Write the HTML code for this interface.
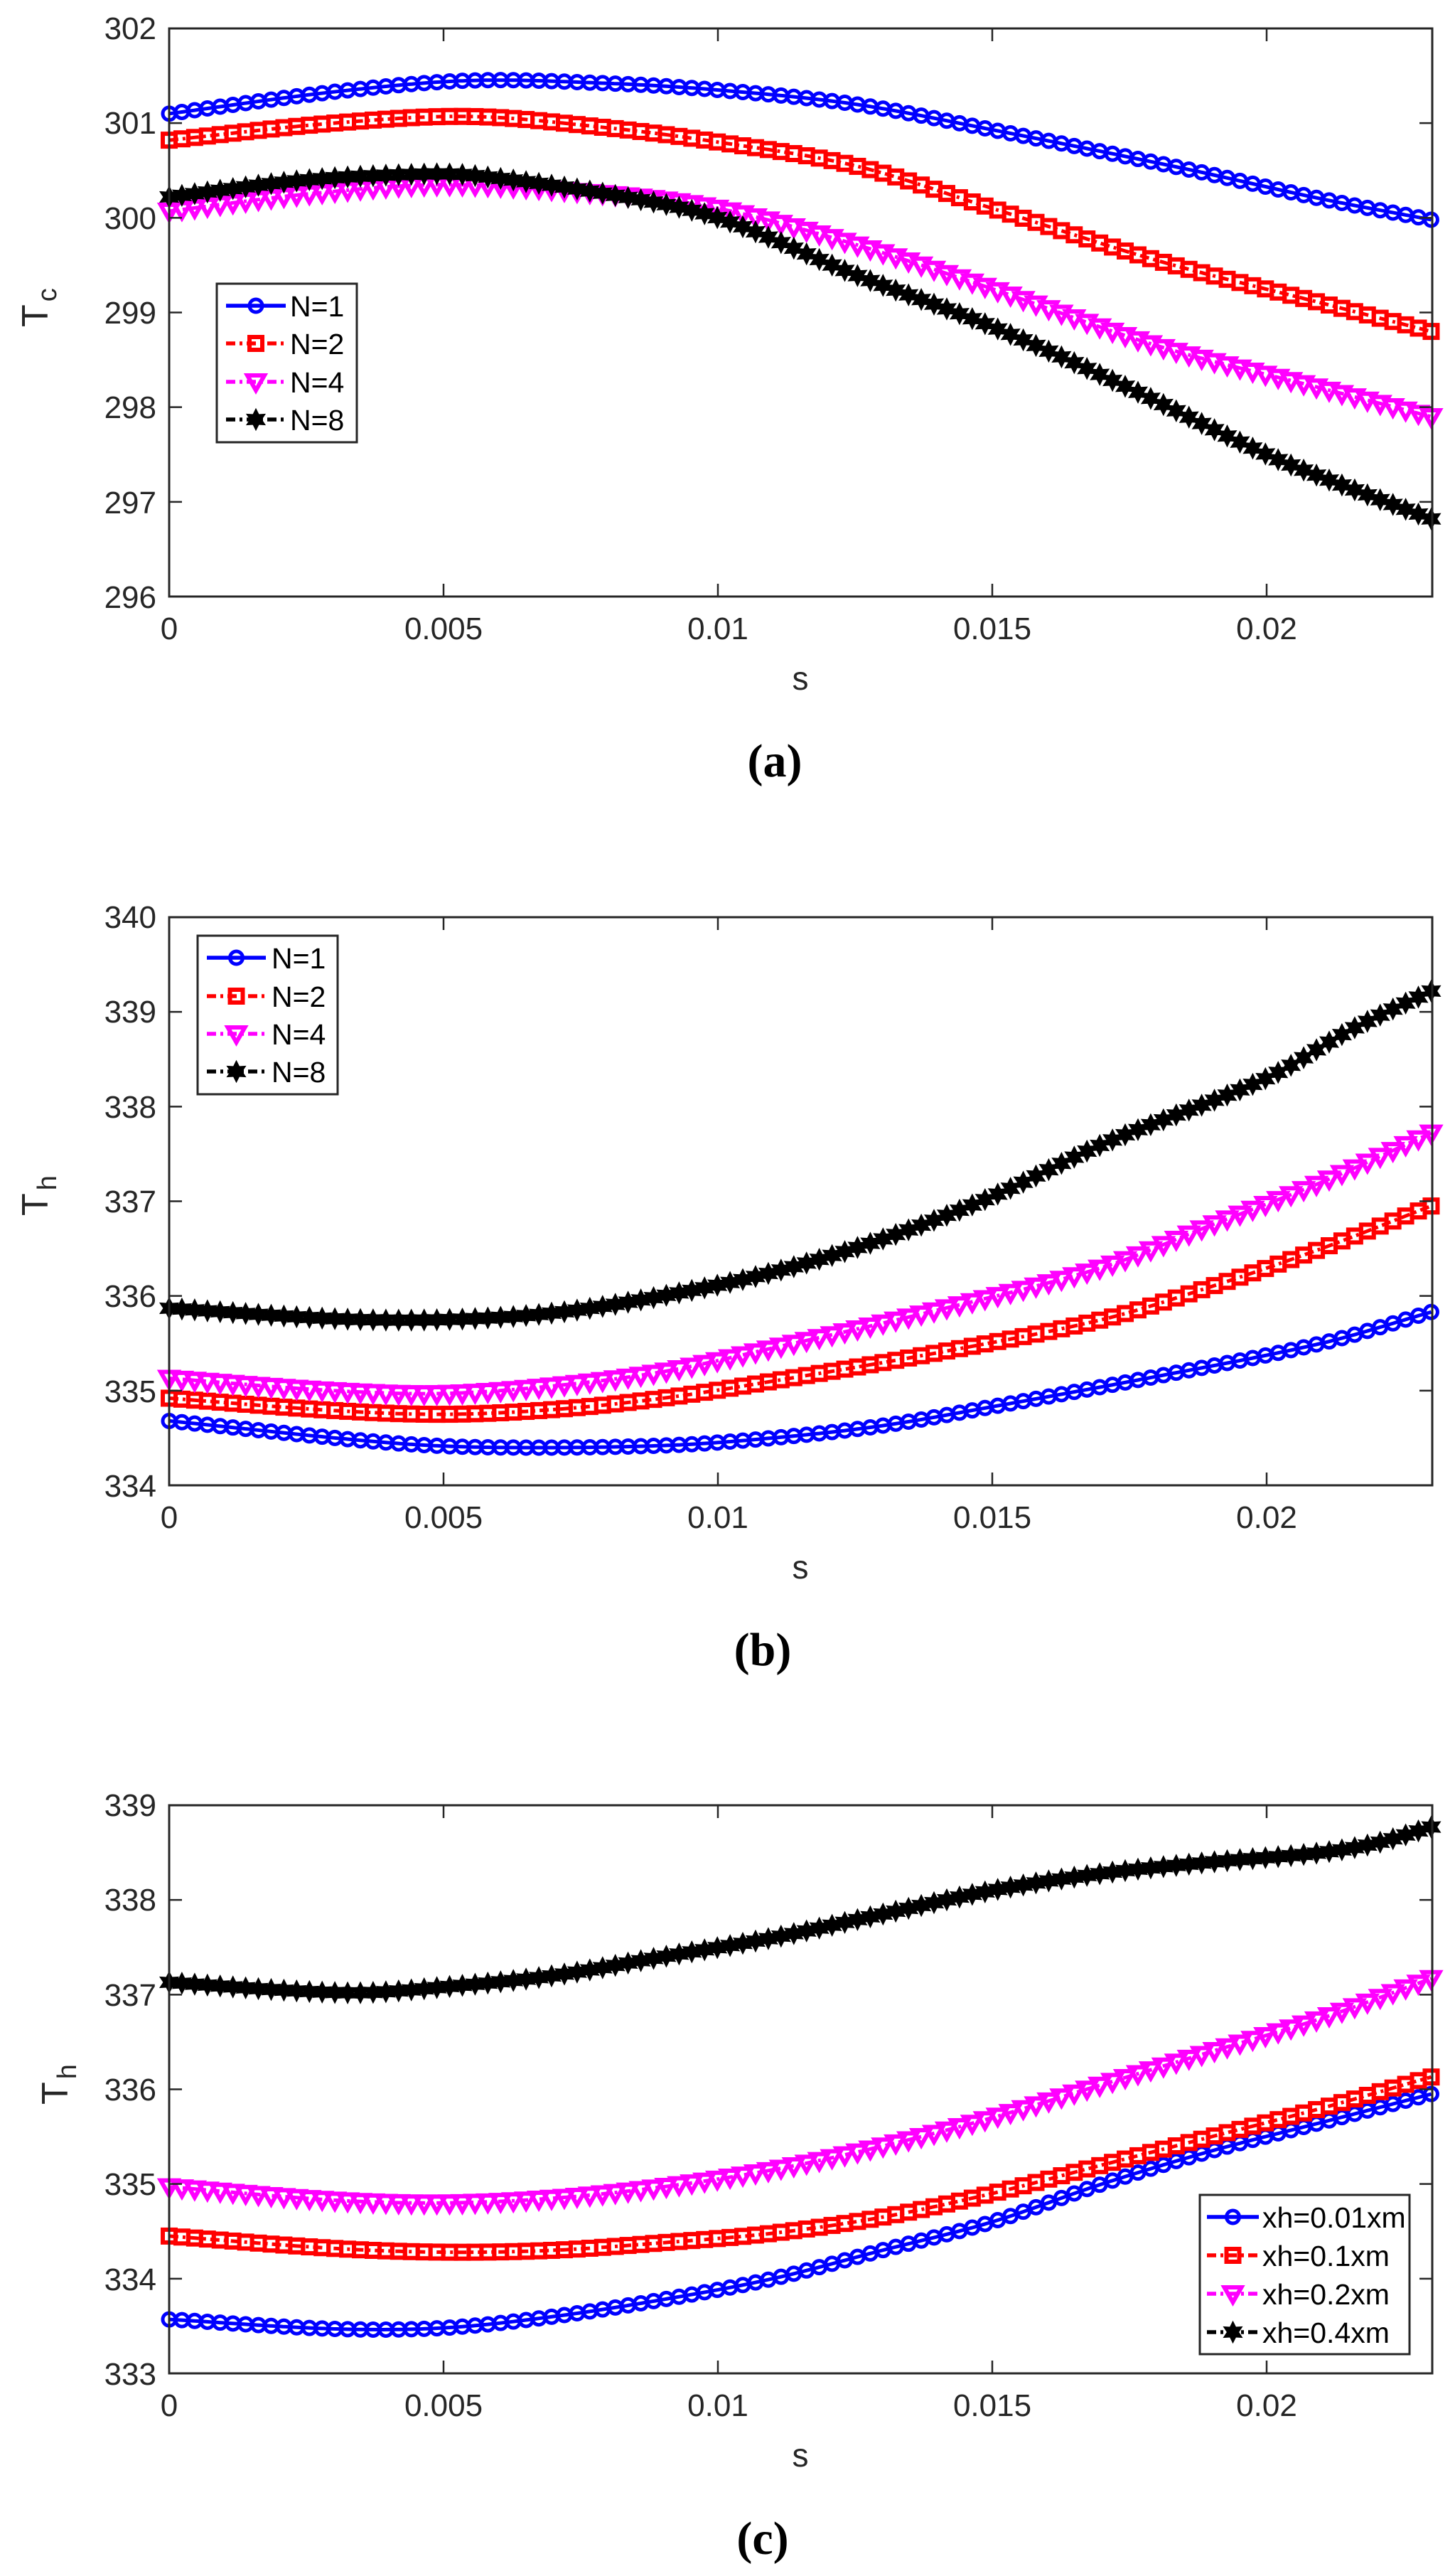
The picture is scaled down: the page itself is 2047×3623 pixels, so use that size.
<!DOCTYPE html>
<html><head><meta charset="utf-8">
<style>
html,body{margin:0;padding:0;background:#fff;}
svg{display:block;}
text{font-family:"Liberation Sans",Arial,sans-serif;fill:#262626;}
.cap{font-family:"Liberation Serif",serif;font-weight:bold;fill:#000;}
</style></head>
<body>
<svg id="s" width="2047" height="3623" viewBox="0 0 2047 3623" xmlns="http://www.w3.org/2000/svg">
<rect width="2047" height="3623" fill="#fff"/>
<g id="plots"></g>
<g font-size="44" text-anchor="end">
<text x="220" y="55">302</text><text x="220" y="188">301</text><text x="220" y="322">300</text><text x="220" y="455">299</text><text x="220" y="588">298</text><text x="220" y="722">297</text><text x="220" y="855">296</text>
<text x="220" y="1305">340</text><text x="220" y="1438">339</text><text x="220" y="1572">338</text><text x="220" y="1705">337</text><text x="220" y="1838">336</text><text x="220" y="1972">335</text><text x="220" y="2105">334</text>
<text x="220" y="2554">339</text><text x="220" y="2687">338</text><text x="220" y="2821">337</text><text x="220" y="2954">336</text><text x="220" y="3087">335</text><text x="220" y="3221">334</text><text x="220" y="3354">333</text>
</g>
<g font-size="44" text-anchor="middle">
<text x="238" y="899">0</text><text x="624" y="899">0.005</text><text x="1010" y="899">0.01</text><text x="1396" y="899">0.015</text><text x="1782" y="899">0.02</text>
<text x="238" y="2149">0</text><text x="624" y="2149">0.005</text><text x="1010" y="2149">0.01</text><text x="1396" y="2149">0.015</text><text x="1782" y="2149">0.02</text>
<text x="238" y="3398">0</text><text x="624" y="3398">0.005</text><text x="1010" y="3398">0.01</text><text x="1396" y="3398">0.015</text><text x="1782" y="3398">0.02</text>
<text x="1126" y="970" font-size="46">s</text>
<text x="1126" y="2220" font-size="46">s</text>
<text x="1126" y="3469" font-size="46">s</text>
</g>
<g font-size="52">
<text transform="translate(67,460) rotate(-90)">T<tspan font-size="38" dy="12" dx="4">c</tspan></text>
<text transform="translate(67,1710) rotate(-90)">T<tspan font-size="38" dy="12" dx="4">h</tspan></text>
<text transform="translate(95,2960) rotate(-90)">T<tspan font-size="38" dy="12" dx="4">h</tspan></text>
</g>
<g font-size="66" text-anchor="middle" class="cap">
<text class="cap" x="1090" y="1092">(a)</text>
<text class="cap" x="1073" y="2342">(b)</text>
<text class="cap" x="1073" y="3592">(c)</text>
</g>
<g id="legends"></g>
</svg>
<script>
(function(){
var NS="http://www.w3.org/2000/svg";
var root=document.getElementById("plots");
var leg=document.getElementById("legends");
function el(tag,attrs,parent){var e=document.createElementNS(NS,tag);for(var k in attrs)e.setAttribute(k,attrs[k]);(parent||root).appendChild(e);return e;}
var X0=238,X1=2015,XMAX=0.02302;
function sx(s){return X0+(s/XMAX)*(X1-X0);}
function interp(pts,x){
 var n=pts.length;
 if(x<=pts[0][0])return pts[0][1];
 if(x>=pts[n-1][0])return pts[n-1][1];
 var i=0;while(pts[i+1][0]<x)i++;
 function slope(k){
  if(k==0)return (pts[1][1]-pts[0][1])/(pts[1][0]-pts[0][0]);
  if(k==n-1)return (pts[n-1][1]-pts[n-2][1])/(pts[n-1][0]-pts[n-2][0]);
  return (pts[k+1][1]-pts[k-1][1])/(pts[k+1][0]-pts[k-1][0]);
 }
 var x0=pts[i][0],x1=pts[i+1][0],h=x1-x0,t=(x-x0)/h;
 var y0=pts[i][1],y1=pts[i+1][1],m0=slope(i)*h,m1=slope(i+1)*h;
 var t2=t*t,t3=t2*t;
 return (2*t3-3*t2+1)*y0+(t3-2*t2+t)*m0+(-2*t3+3*t2)*y1+(t3-t2)*m1;
}
function marker(type,x,y,col,g){
 if(type=="o"){el("circle",{cx:x,cy:y,r:9,fill:"none",stroke:col,"stroke-width":5},g);}
 else if(type=="s"){el("rect",{x:x-9,y:y-9,width:18,height:18,fill:"none",stroke:col,"stroke-width":6},g);}
 else if(type=="v"){el("polygon",{points:(x-12)+","+(y-9)+" "+(x+12)+","+(y-9)+" "+x+","+(y+12),fill:"none",stroke:col,"stroke-width":6,"stroke-linejoin":"miter"},g);}
 else if(type=="h"){var p=[];for(var k=0;k<12;k++){var a=-Math.PI/2+k*Math.PI/6;var r=(k%2==0)?14:7.5;p.push((x+r*Math.cos(a)).toFixed(1)+","+(y+r*Math.sin(a)).toFixed(1));}
  el("polygon",{points:p.join(" "),fill:col,stroke:col,"stroke-width":2},g);}
}
var DASH="13,6,4,6";
function plot(top,ymin,ymax,series){
 var bot=top+799;
 function sy(v){return top+(ymax-v)/(ymax-ymin)*(bot-top);}
 var g=el("g",{});
 series.forEach(function(s){
  var d="",pts=[];
  for(var i=0;i<100;i++){var x=0.023*i/99;var y=interp(s.p,x);pts.push([sx(x),sy(y)]);}
  for(var i=0;i<=400;i++){var x=0.023*i/400;d+=(i?"L":"M")+sx(x).toFixed(1)+","+sy(interp(s.p,x)).toFixed(1);}
  var a={d:d,fill:"none",stroke:s.c,"stroke-width":5};if(s.dash)a["stroke-dasharray"]=DASH;
  el("path",a,g);
  pts.forEach(function(q){marker(s.m,q[0],q[1],s.c,g);});
 });
 el("rect",{x:X0,y:top,width:X1-X0,height:bot-top,fill:"none",stroke:"#262626","stroke-width":3});
 for(var k=1;k<=4;k++){var xx=X0+k*386;
  el("line",{x1:xx,y1:bot,x2:xx,y2:bot-18,stroke:"#262626","stroke-width":2.5});
  el("line",{x1:xx,y1:top,x2:xx,y2:top+18,stroke:"#262626","stroke-width":2.5});}
 for(var k=1;k<6;k++){var yy=top+k*(bot-top)/6;
  el("line",{x1:X0,y1:yy,x2:X0+18,y2:yy,stroke:"#262626","stroke-width":2.5});
  el("line",{x1:X1,y1:yy,x2:X1-18,y2:yy,stroke:"#262626","stroke-width":2.5});}
}
function legend(x,y,w,h,lx0,lx1,tx,ys,items){
 el("rect",{x:x,y:y,width:w,height:h,fill:"#fff",stroke:"#262626","stroke-width":3},leg);
 items.forEach(function(it,i){
  var a={x1:lx0,y1:ys[i],x2:lx1,y2:ys[i],stroke:it.c,"stroke-width":5.5};if(it.dash)a["stroke-dasharray"]=DASH;
  el("line",a,leg);marker(it.m,(lx0+lx1)/2,ys[i],it.c,leg);
  var t=el("text",{x:tx,y:ys[i]+15,"font-size":41,fill:"#000"},leg);t.style.fill="#000";t.textContent=it.t;
 });
}
var B="#0000ff",R="#ff0000",M="#ff00ff",K="#000000";
plot(40,296,302,[
 {c:B,m:"o",p:[[0,301.1],[0.003,301.33],[0.0055,301.45],[0.008,301.42],[0.01,301.35],[0.0125,301.2],[0.015,300.93],[0.0185,300.52],[0.021,300.2],[0.023,299.98]]},
 {c:R,m:"s",dash:1,p:[[0,300.82],[0.003,301.0],[0.0055,301.07],[0.008,300.95],[0.01,300.8],[0.0125,300.55],[0.015,300.1],[0.018,299.55],[0.021,299.1],[0.023,298.8]]},
 {c:M,m:"v",dash:1,p:[[0,300.07],[0.0025,300.25],[0.005,300.35],[0.008,300.25],[0.01,300.1],[0.0125,299.72],[0.015,299.25],[0.018,298.65],[0.021,298.2],[0.023,297.9]]},
 {c:K,m:"h",dash:1,p:[[0,300.22],[0.0025,300.4],[0.0045,300.46],[0.0055,300.45],[0.008,300.25],[0.01,300.0],[0.0125,299.4],[0.015,298.85],[0.0175,298.2],[0.02,297.5],[0.0215,297.15],[0.023,296.82]]}
]);
plot(1290,334,340,[
 {c:B,m:"o",p:[[0,334.68],[0.004,334.45],[0.006,334.4],[0.009,334.42],[0.011,334.5],[0.013,334.63],[0.015,334.83],[0.018,335.15],[0.021,335.5],[0.023,335.83]]},
 {c:R,m:"s",dash:1,p:[[0,334.92],[0.003,334.79],[0.005,334.75],[0.007,334.8],[0.009,334.92],[0.011,335.1],[0.014,335.4],[0.017,335.75],[0.019,336.1],[0.021,336.5],[0.023,336.95]]},
 {c:M,m:"v",dash:1,p:[[0,335.13],[0.003,335.0],[0.005,334.97],[0.007,335.05],[0.009,335.2],[0.011,335.45],[0.014,335.85],[0.017,336.3],[0.019,336.75],[0.021,337.2],[0.023,337.72]]},
 {c:K,m:"h",dash:1,p:[[0,335.87],[0.003,335.76],[0.005,335.75],[0.007,335.82],[0.009,336.0],[0.011,336.25],[0.013,336.6],[0.015,337.05],[0.017,337.6],[0.02,338.3],[0.0215,338.8],[0.023,339.22]]}
]);
plot(2539,333,339,[
 {c:B,m:"o",p:[[0,333.57],[0.003,333.47],[0.005,333.48],[0.007,333.6],[0.009,333.78],[0.011,334.0],[0.013,334.3],[0.015,334.6],[0.017,335.0],[0.019,335.35],[0.021,335.65],[0.023,335.95]]},
 {c:R,m:"s",dash:1,p:[[0,334.45],[0.003,334.32],[0.005,334.28],[0.007,334.3],[0.009,334.38],[0.011,334.48],[0.013,334.65],[0.015,334.9],[0.017,335.2],[0.019,335.5],[0.021,335.8],[0.023,336.13]]},
 {c:M,m:"v",dash:1,p:[[0,334.97],[0.003,334.83],[0.005,334.8],[0.007,334.85],[0.009,334.97],[0.011,335.15],[0.013,335.4],[0.015,335.7],[0.017,336.05],[0.019,336.4],[0.021,336.75],[0.023,337.17]]},
 {c:K,m:"h",dash:1,p:[[0,337.13],[0.002,337.05],[0.0035,337.02],[0.005,337.08],[0.007,337.2],[0.009,337.4],[0.011,337.6],[0.013,337.85],[0.015,338.1],[0.017,338.28],[0.019,338.4],[0.021,338.5],[0.022,338.6],[0.023,338.77]]}
]);
var Ni=[{c:B,m:"o",t:"N=1"},{c:R,m:"s",dash:1,t:"N=2"},{c:M,m:"v",dash:1,t:"N=4"},{c:K,m:"h",dash:1,t:"N=8"}];
legend(305,399,197,223,318,402,408,[430,483,537,590],Ni);
legend(278,1316,197,223,291,374,382,[1347,1401,1454,1507],Ni);
legend(1688,3087,295,224,1698,1771,1776,[3118,3172,3226,3280],
 [{c:B,m:"o",t:"xh=0.01xm"},{c:R,m:"s",dash:1,t:"xh=0.1xm"},{c:M,m:"v",dash:1,t:"xh=0.2xm"},{c:K,m:"h",dash:1,t:"xh=0.4xm"}]);
})();
</script>
</body></html>
